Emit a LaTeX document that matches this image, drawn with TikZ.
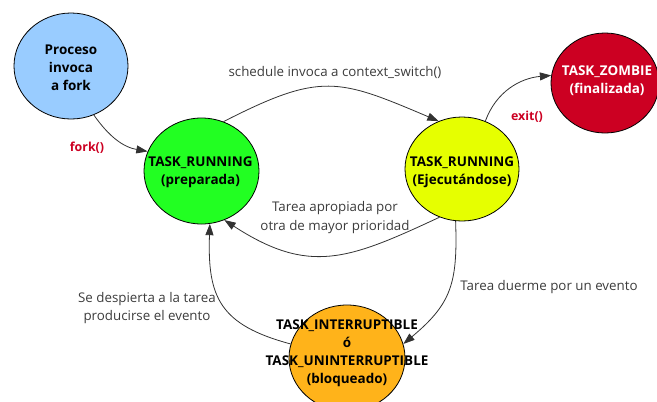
\documentclass[tikz,border=0pt]{standalone}
\usepackage{fontspec}
\setmainfont{Open Sans}
\usetikzlibrary{shapes.geometric,arrows.meta}

\definecolor{cblue}{RGB}{153,204,255}
\definecolor{cgreen}{RGB}{34,255,34}
\definecolor{cyellow}{RGB}{230,255,0}
\definecolor{cred}{RGB}{204,0,34}
\definecolor{corange}{RGB}{255,179,26}
\definecolor{labelgray}{RGB}{60,60,60}
\definecolor{linegray}{RGB}{50,50,50}

\tikzset{
  statenode/.style={ellipse, draw=black, line width=0.6pt, inner sep=0pt},
  statetext/.style={align=center, font=\fontsize{10.1pt}{13.6pt}\selectfont\bfseries, inner sep=0pt},
  edgelabel/.style={align=center, text=labelgray, font=\fontsize{10pt}{14.2pt}\selectfont, inner sep=0pt},
  calllabel/.style={text=cred, font=\fontsize{9.3pt}{13pt}\selectfont\bfseries, inner sep=0pt},
  trans/.style={draw=linegray, line width=0.6pt, -{Triangle[length=8.5pt,width=6pt]}}
}

\begin{document}
\begin{tikzpicture}[x=0.75pt,y=-0.75pt]
\useasboundingbox (0,0) rectangle (657,401);
\clip (0,0) rectangle (657,401);

% states
\node[statenode, fill=cblue,   minimum width=114pt*0.75, minimum height=106pt*0.75] (b) at (71,66) {};
\node[statenode, fill=cgreen,  minimum width=115pt*0.75, minimum height=106pt*0.75] (g) at (201.5,171) {};
\node[statenode, fill=cyellow, minimum width=114pt*0.75, minimum height=104pt*0.75] (y) at (462,169) {};
\node[statenode, fill=cred,    minimum width=108pt*0.75, minimum height=100pt*0.75] (z) at (605,83) {};
\node[statenode, fill=corange, minimum width=116pt*0.75, minimum height=106pt*0.75] (o) at (347,358) {};

% state captions
\node[statetext] (bt) at (71,67.5) {Proceso\\invoca\\a fork};
\node[statetext] (gt) at (200.5,172) {TASK\_RUNNING\\(preparada)};
\node[statetext] (yt) at (462,172) {TASK\_RUNNING\\(Ejecutándose)};
\node[statetext, text=white] (zt) at (607,81) {TASK\_ZOMBIE\\(finalizada)};
\node[statetext] (ot) at (347,353) {TASK\_INTERRUPTIBLE\\ó\\TASK\_UNINTERRUPTIBLE\\(bloqueado)};

% transitions
\draw[trans] (b.-65) to[out=-55,in=170] (g.160);
\draw[trans] (g.66) to[out=27,in=157,looseness=1.3] (y.116);
\draw[trans] (y.64) to[out=70,in=185] (z.172);
\draw[trans] (y.245) to[out=205,in=-33,looseness=1.2] (g.295);
\draw[trans] (y.263) to[out=-88,in=40,looseness=1.2] (o.14);
\draw[trans] (o.166) to[out=165,in=-92,looseness=1.3] (g.279);

% transition labels
\node[calllabel] (lfork) at (87,148) {fork()};
\node[calllabel] (lexit) at (527,117) {exit()};
\node[edgelabel] (lsched) at (335,72) {schedule invoca a context\_switch()};
\node[edgelabel] (lpre) at (335,217.5) {Tarea apropiada por\\otra de mayor prioridad};
\node[edgelabel] (lsleep) at (549,287) {Tarea duerme por un evento};
\node[edgelabel] (lwake) at (147,308) {Se despierta a la tarea\\producirse el evento};
\end{tikzpicture}
\end{document}
